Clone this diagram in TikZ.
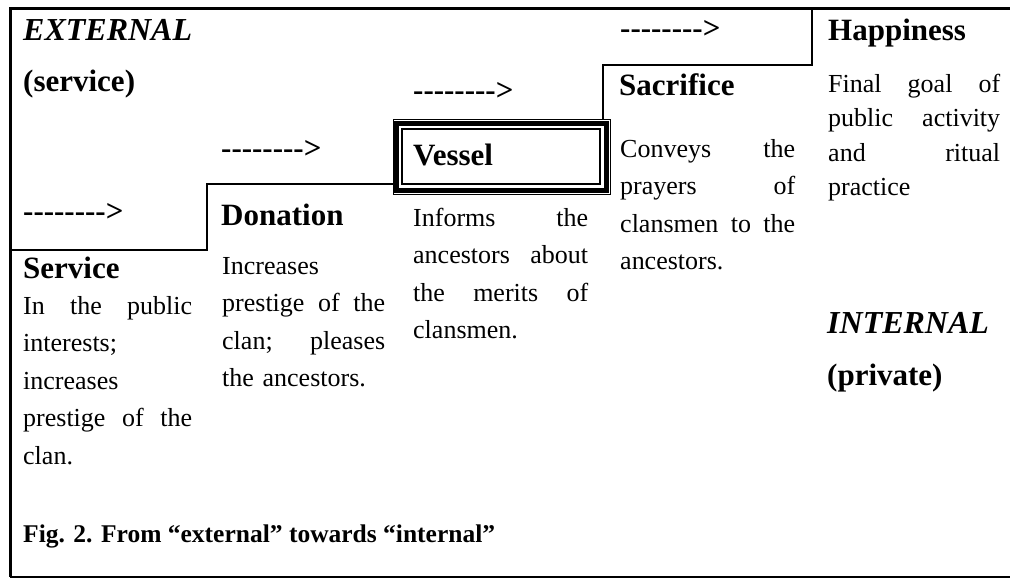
\documentclass[tikz,border=0pt]{standalone}
\usepackage{fontspec}
\setmainfont{Liberation Serif}
\newcommand\darrow{\hbox{-}\hbox{-}\hbox{-}\hbox{-}\hbox{-}\hbox{-}\hbox{-}\hbox{-}\hbox{>}}
\newcommand\jl[2]{\leavevmode\hbox to #1{#2}}
\begin{document}
\begin{tikzpicture}[x=1pt,y=-1pt,
  frameline/.style={line width=3pt},
  stepline/.style={line width=1.6pt},
  head/.style={inner sep=0pt, anchor=base west, font=\fontsize{31}{36}\selectfont\bfseries},
  headit/.style={head, font=\fontsize{32}{36}\selectfont\bfseries\itshape},
  body/.style={inner sep=0pt, anchor=base west, font=\fontsize{26}{37.5}\selectfont, align=left},
  caption/.style={inner sep=0pt, anchor=base west, font=\fontsize{25.5}{30}\selectfont\bfseries}]
\useasboundingbox (0,0) rectangle (1010,579);
% frame
\coordinate (tr) at (1010,8);
\coordinate (tl) at (10,8);
\coordinate (bl) at (10,577);
\coordinate (br) at (1010,577);
\draw[frameline] (tr) -- (tl) -- (bl);
\draw[line width=2pt] (bl) -- (br);
% steps
\draw[stepline] (10,250) -- (207,250) -- (207,184) -- (393,184);
\draw[stepline] (603,119) -- (603,65) -- (812,65) -- (812,8);
% vessel box
\draw[line width=1pt] (393,119) rectangle (610,194);
\draw[line width=5pt] (396.5,123) rectangle (606.5,190);
\draw[line width=1.3pt] (402,129) rectangle (600,184);
% headings
\node[headit] (ext) at (23,40) {EXTERNAL};
\node[head] (serv) at (23,91) {(service)};
\node[head] (a1) at (23,221) {\darrow};
\node[head] (a2) at (221,158) {\darrow};
\node[head] (a3) at (413,100) {\darrow};
\node[head] (a4) at (620,38) {\darrow};
\node[head] (hS) at (23,278) {Service};
\node[head] (hD) at (221,225) {Donation};
\node[head] (hV) at (413,165) {Vessel};
\node[head] (hSa) at (619,95) {Sacrifice};
\node[head] (hH) at (828,40) {Happiness};
\node[headit] (int) at (827,333) {INTERNAL};
\node[head] (priv) at (827,385) {(private)};
% bodies
\node[body, text width=169pt] (bS) at (23,314) {\jl{169pt}{In\hfill the\hfill public}\\interests;\\increases\\\jl{169pt}{prestige\hfill of\hfill the}\\clan.};
\node[body, text width=163pt] (bD) at (222,274) {Increases\\\jl{163pt}{prestige\hfill of\hfill the}\\\jl{163pt}{clan;\hfill pleases}\\the ancestors.};
\node[body, text width=175pt] (bV) at (413,226) {\jl{175pt}{Informs\hfill the}\\\jl{175pt}{ancestors\hfill about}\\\jl{175pt}{the\hfill merits\hfill of}\\clansmen.};
\node[body, text width=175pt] (bSa) at (620,157) {\jl{175pt}{Conveys\hfill the}\\\jl{175pt}{prayers\hfill of}\\\jl{175pt}{clansmen\hfill to\hfill the}\\ancestors.};
\node[body, text width=172pt, font=\fontsize{26}{34.5}\selectfont] (bH) at (828,92) {\jl{172pt}{Final\hfill goal\hfill of}\\\jl{172pt}{public\hfill activity}\\\jl{172pt}{and\hfill ritual}\\practice};
% caption
\node[caption] (cap) at (23,542) {Fig. 2. From “external” towards “internal”};
\end{tikzpicture}
\end{document}
